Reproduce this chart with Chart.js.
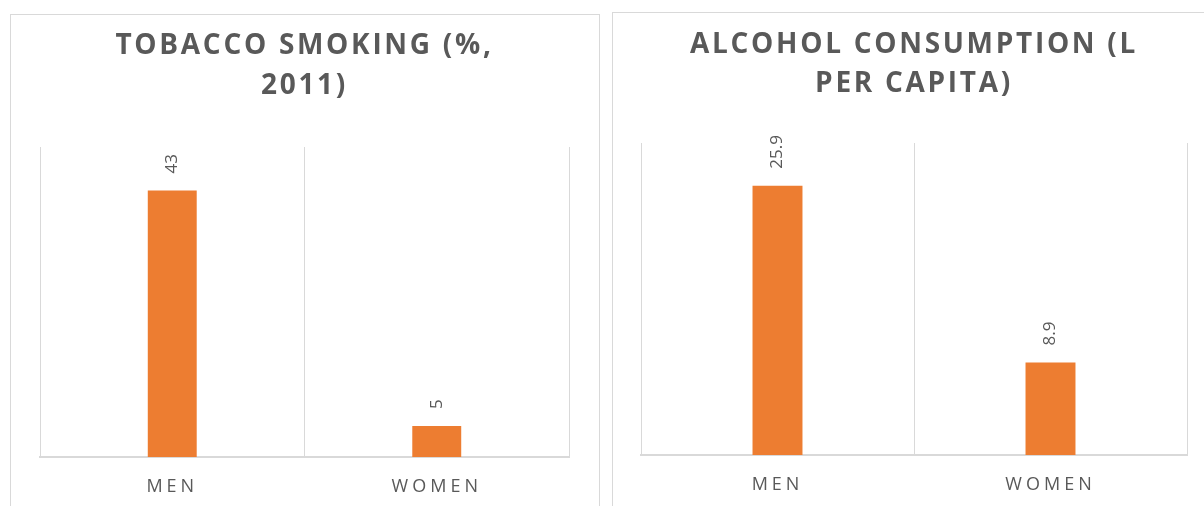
<!DOCTYPE html>
<html>
<head>
<meta charset="utf-8">
<script src="https://cdn.jsdelivr.net/npm/chart.js@4"></script>
<style>
  body { margin: 0; background: #fff; width: 1204px; height: 506px; overflow: hidden; position: relative; }
  .panel { position: absolute; border: 1px solid #d9d9d9; box-sizing: content-box; }
  #leftPanel { left: 10px; top: 14px; width: 588px; height: 498px; }
  #rightPanel { left: 612px; top: 12px; width: 598px; height: 498px; }
</style>
</head>
<body>
<div class="panel" id="leftPanel"><canvas id="smoking"></canvas></div>
<div class="panel" id="rightPanel"><canvas id="alcohol"></canvas></div>
<script>
const categories = ["MEN", "WOMEN"]
const smokingValues = [43, 5]
const alcoholValues = [25.9, 8.9]
const smokingTitle = ["TOBACCO SMOKING (%,", "2011)"]
const alcoholTitle = ["ALCOHOL CONSUMPTION (L", "PER CAPITA)"]

const TEXT = "#595959"
const GRID = "#d9d9d9"
const BAR = "#ED7D31"

// vertical value labels above the bars + letter spacing for title / axis text
const spacingPlugin = {
  id: "spacing",
  beforeDraw: (chart) => {
    chart.ctx.letterSpacing = "2.7px"
  },
  afterDatasetsDraw: (chart) => {
    const { ctx } = chart
    const meta = chart.getDatasetMeta(0)
    const values = chart.data.datasets[0].data
    ctx.save()
    ctx.letterSpacing = "0px"
    ctx.fillStyle = TEXT
    ctx.font = "17px 'Open Sans'"
    meta.data.forEach((bar, i) => {
      ctx.save()
      ctx.translate(bar.x, bar.y - 17)
      ctx.rotate(-Math.PI / 2)
      ctx.textAlign = "left"
      ctx.textBaseline = "middle"
      ctx.fillText(String(values[i]), 0, 0)
      ctx.restore()
    })
    ctx.restore()
    ctx.letterSpacing = "4px"
  },
}

const makeConfig = ({ title, values, max, pad, titlePad, lineH, barPct }) => ({
  type: "bar",
  data: {
    labels: categories,
    datasets: [{ data: values, backgroundColor: BAR, barPercentage: barPct, categoryPercentage: 1 }],
  },
  options: {
    responsive: true,
    maintainAspectRatio: false,
    animation: false,
    layout: { padding: pad },
    plugins: {
      legend: { display: false },
      tooltip: { enabled: false },
      title: {
        display: true,
        text: title,
        color: TEXT,
        font: { family: "'Open Sans'", size: 28, weight: "bold", lineHeight: lineH },
        padding: titlePad,
      },
    },
    scales: {
      x: {
        offset: true,
        grid: { color: GRID, lineWidth: 1, drawTicks: false, offset: true },
        border: { color: GRID, width: 2 },
        ticks: { color: TEXT, font: { family: "'Open Sans'", size: 18 }, padding: 19, z: 1 },
        afterFit: (scale) => { scale.height = 56 },
      },
      y: { display: false, min: 0, max },
    },
  },
  plugins: [spacingPlugin],
})

new Chart(document.getElementById("smoking"), makeConfig({
  title: smokingTitle, values: smokingValues, max: 50,
  pad: { left: 29, right: 30, top: 0, bottom: 0 },
  titlePad: { top: 11, bottom: 41 }, lineH: 40 / 28, barPct: 0.185,
}))

new Chart(document.getElementById("alcohol"), makeConfig({
  title: alcoholTitle, values: alcoholValues, max: 30,
  pad: { left: 28, right: 24, top: 0, bottom: 0 },
  titlePad: { top: 13, bottom: 40 }, lineH: 38.5 / 28, barPct: 0.183,
}))
</script>
</body>
</html>
